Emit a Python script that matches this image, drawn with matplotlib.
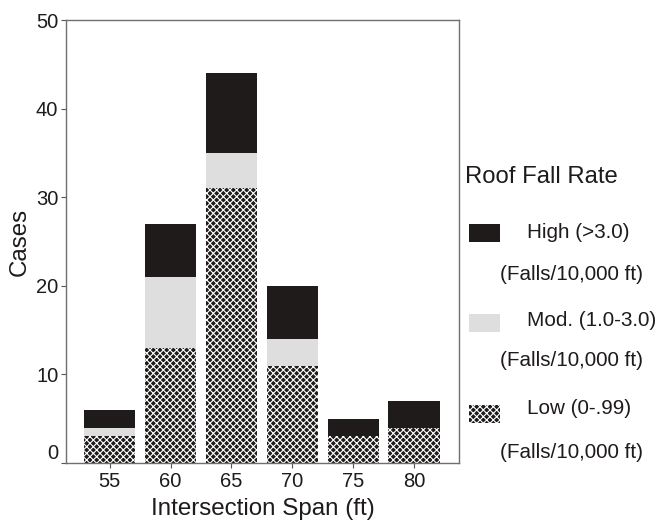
import matplotlib
matplotlib.use("Agg")
import matplotlib.pyplot as plt
from matplotlib.patches import Rectangle
from matplotlib.transforms import ScaledTranslation
import numpy as np

plt.rcParams['font.family'] = ['Liberation Sans', 'DejaVu Sans']
plt.rcParams['hatch.linewidth'] = 0.8

spans = ["55", "60", "65", "70", "75", "80"]
low_cases = [3, 13, 31, 11, 3, 4]
mod_cases = [1, 8, 4, 3, 0, 0]
high_cases = [2, 6, 9, 6, 2, 3]

series_labels = ["High (>3.0)", "Mod. (1.0-3.0)", "Low (0-.99)"]
unit_label = "(Falls/10,000 ft)"

ink = '#1e1b1a'
light = '#dedede'
W, H = 655, 523


def fx(px):
    return px / W


def fy(py):
    return 1 - py / H


fig = plt.figure(figsize=(6.55, 5.23), dpi=100)
ax = fig.add_axes([fx(66), fy(463), 393 / W, 443 / H])

x = np.arange(len(spans))
low = np.array(low_cases)
mod = np.array(mod_cases)
high = np.array(high_cases)
width = 0.84

ax.bar(x, low, width, color=ink, edgecolor='white', linewidth=0, hatch='xxxxx')
ax.bar(x, mod, width, bottom=low, color=light, linewidth=0)
ax.bar(x, high, width, bottom=low + mod, color=ink, linewidth=0)

ax.set_xlim(-0.72, 5.74)
ax.set_ylim(0, 50)
ax.set_xticks(x)
ax.set_xticklabels(spans)
ax.set_yticks(range(0, 51, 10))
ax.tick_params(axis='both', labelsize=14.5, colors='#555555', labelcolor=ink,
               length=3.5, width=0.8)
ax.tick_params(axis='x', pad=3)
ax.tick_params(axis='y', pad=2)
for sp in ax.spines.values():
    sp.set_color('#6f6f6f')
    sp.set_linewidth(1.0)

# the zero label sits a little above its tick in the original
zero = ax.get_yticklabels()[0]
zero.set_transform(zero.get_transform() + ScaledTranslation(0, 8 / 72, fig.dpi_scale_trans))

ax.set_xlabel("Intersection Span (ft)", fontsize=17.4, color=ink, labelpad=5)
ax.set_ylabel("Cases", fontsize=17.4, color=ink, labelpad=4)

# legend drawn by hand
fig.text(fx(465), fy(177), "Roof Fall Rate", fontsize=17.2, color=ink, va='center', ha='left')
patch_tops = [224, 314, 405]
label_ys = [232, 321, 409]
unit_ys = [274, 361, 452]
styles = [dict(facecolor=ink, linewidth=0),
          dict(facecolor=light, linewidth=0),
          dict(facecolor=ink, edgecolor='white', linewidth=0, hatch='xxxxx')]
for lab, top, ly, uy, st in zip(series_labels, patch_tops, label_ys, unit_ys, styles):
    fig.patches.append(Rectangle((fx(469), fy(top + 18)), 31 / W, 18 / H,
                                 transform=fig.transFigure, **st))
    fig.text(fx(527), fy(ly), lab, fontsize=14.9, color=ink, va='center', ha='left')
    fig.text(fx(500), fy(uy), unit_label, fontsize=14.9, color=ink, va='center', ha='left')

fig.savefig("out.png", dpi=100)
